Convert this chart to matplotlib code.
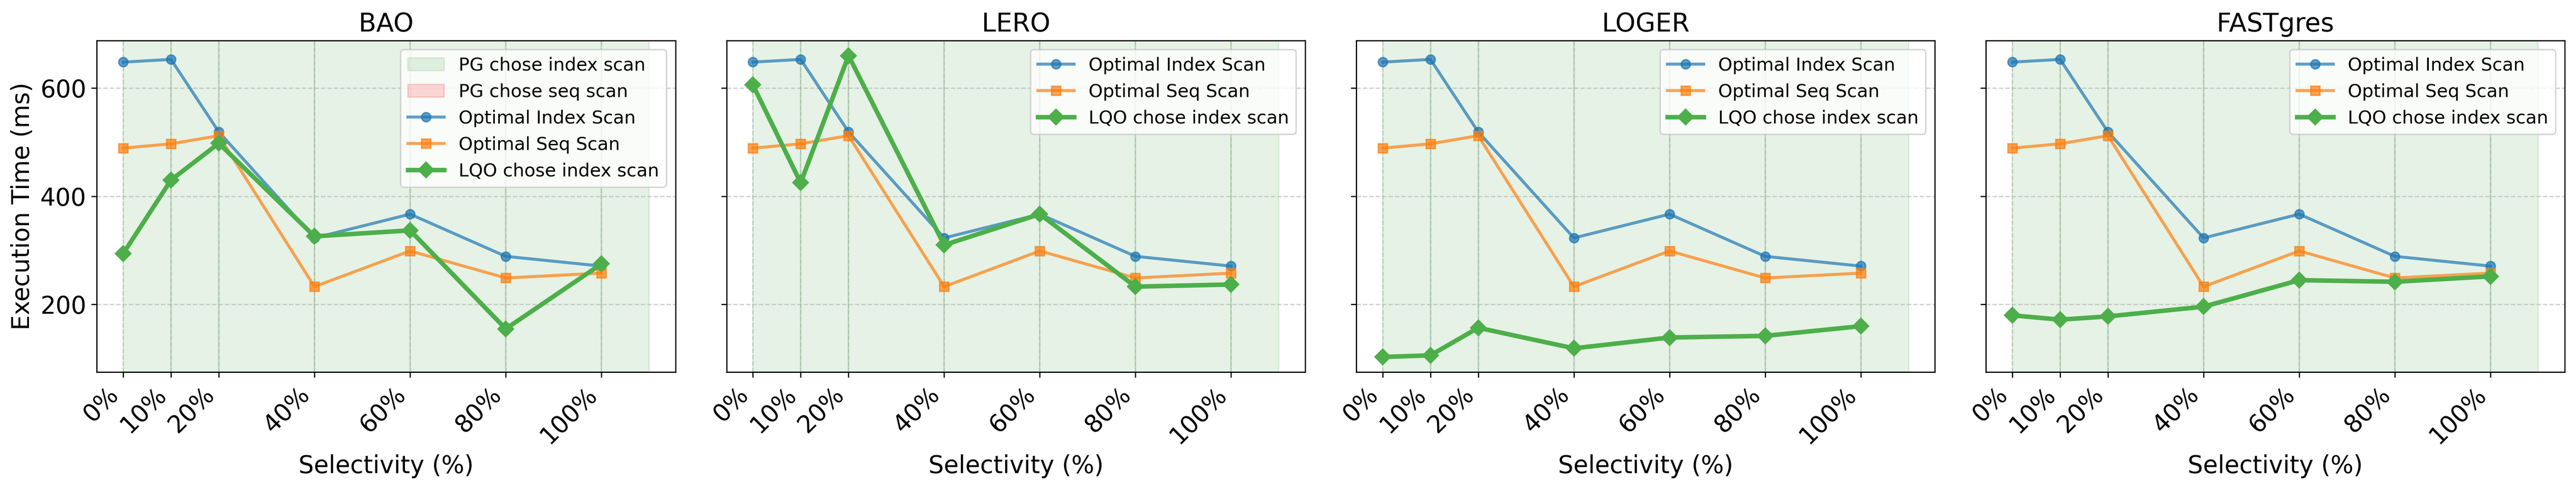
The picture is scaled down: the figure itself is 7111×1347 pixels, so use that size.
import matplotlib.pyplot as plt
from matplotlib.patches import Patch


selectivity = [0, 10, 20, 40, 60, 80, 100]
tick_labels = ["0%", "10%", "20%", "40%", "60%", "80%", "100%"]

# ground truth timings, same in every panel
optimal_index = [648, 653, 519, 323, 367, 289, 271]
optimal_seq = [489, 497, 512, 233, 299, 249, 258]

# what PostgreSQL itself picked at each selectivity
pg_choice = ["index", "index", "index", "index", "index", "index", "index"]

bao_lqo = [294, 430, 498, 326, 337, 155, 275]
lero_lqo = [606, 425, 660, 310, 367, 233, 237]
loger_lqo = [103, 106, 157, 119, 139, 142, 160]
fastgres_lqo = [180, 172, 178, 196, 245, 242, 252]

methods = ["BAO", "LERO", "LOGER", "FASTgres"]
lqo_times = [bao_lqo, lero_lqo, loger_lqo, fastgres_lqo]


plt.rcParams.update({
    "font.family": "DejaVu Sans",
    "font.size": 16,
})

fig, axes = plt.subplots(1, 4, figsize=(7111 / 300, 1347 / 300), sharey=True)
fig.subplots_adjust(left=0.0376, right=0.9956, bottom=0.2376, top=0.9169,
                    wspace=0.0882)

for k, (ax, name, lqo) in enumerate(zip(axes, methods, lqo_times)):
    # background band per selectivity step, coloured by PG's choice
    for i, choice in enumerate(pg_choice):
        start = selectivity[i]
        if i + 1 < len(selectivity):
            end = selectivity[i + 1]
        else:
            end = selectivity[i] + 10
        if choice == "index":
            ax.axvspan(start, end, color="green", alpha=0.1)
        else:
            ax.axvspan(start, end, color="red", alpha=0.15)

    ax.plot(selectivity, optimal_index, marker="o", markersize=6,
            linewidth=2, color="tab:blue", alpha=0.7,
            label="Optimal Index Scan")
    ax.plot(selectivity, optimal_seq, marker="s", markersize=6,
            linewidth=2, color="tab:orange", alpha=0.7,
            label="Optimal Seq Scan")
    ax.plot(selectivity, lqo, marker="D", markersize=7,
            linewidth=3, color="#4daf4a",
            label="LQO chose index scan")

    ax.set_title(name, fontsize=17)
    ax.set_xlabel("Selectivity (%)", fontsize=16)
    ax.set_xticks(selectivity)
    ax.set_xticklabels(tick_labels, rotation=45, ha="right")
    ax.tick_params(axis="both", labelsize=16)
    ax.grid(True, linestyle="--", alpha=0.6)

    handles, labels = ax.get_legend_handles_labels()
    if k == 0:
        pg_handles = [
            Patch(color="green", alpha=0.1, label="PG chose index scan"),
            Patch(color="red", alpha=0.15, label="PG chose seq scan"),
        ]
        handles = pg_handles + handles
        labels = [h.get_label() for h in pg_handles] + labels
    ax.legend(handles, labels, loc="upper right", fontsize=12)

axes[0].set_ylabel("Execution Time (ms)", fontsize=16)

fig.savefig("out.png", dpi=300)
plt.close(fig)
